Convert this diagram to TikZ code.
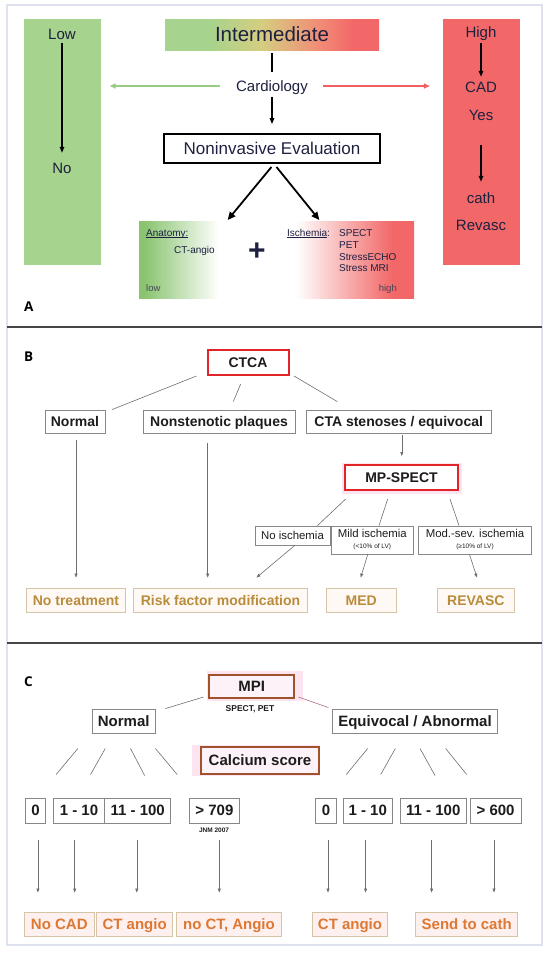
\documentclass[tikz,border=0pt]{standalone}
\usepackage{fontspec}
\setmainfont{Liberation Sans}
\newfontfamily\labfont{Open Sans}
\usetikzlibrary{arrows.meta}

\newcommand\myul[1]{\setbox0\hbox{#1}\rlap{\rule[-1.4pt]{\wd0}{0.6pt}}\box0}

\definecolor{lgreen}{RGB}{166,211,141}
\definecolor{egreen}{RGB}{138,196,112}
\definecolor{lred}{RGB}{242,104,104}
\definecolor{midtan}{RGB}{212,206,128}
\definecolor{salmonc}{RGB}{242,140,118}
\definecolor{navy}{RGB}{30,32,64}
\definecolor{lowgrey}{RGB}{70,70,90}
\definecolor{framec}{RGB}{222,226,238}
\definecolor{sepc}{RGB}{70,70,70}
\definecolor{boxgrey}{RGB}{135,135,135}
\definecolor{linegrey}{RGB}{110,110,110}
\definecolor{txtdark}{RGB}{28,28,28}
\definecolor{ctred}{RGB}{224,36,40}
\definecolor{brownb}{RGB}{160,82,45}
\definecolor{pinkbg}{RGB}{252,228,240}
\definecolor{pinkin}{RGB}{253,242,247}
\definecolor{gold}{RGB}{185,140,60}
\definecolor{orangeT}{RGB}{221,120,50}
\definecolor{tanb}{RGB}{214,196,166}
\definecolor{creambg}{RGB}{255,249,246}
\definecolor{pinkout}{RGB}{255,240,240}
\definecolor{arrowgreen}{RGB}{150,205,130}
\definecolor{arrowred}{RGB}{240,96,96}
\definecolor{redline}{RGB}{176,110,122}

\pgfdeclarehorizontalshading{intershade}{100bp}{color(0bp)=(lgreen); color(35bp)=(lgreen); color(47.5bp)=(midtan); color(61bp)=(salmonc); color(69bp)=(lred); color(100bp)=(lred)}
\pgfdeclarehorizontalshading{evalshade}{100bp}{color(0bp)=(egreen); color(26bp)=(egreen); color(39.5bp)=(white); color(53.5bp)=(white); color(71bp)=(lred); color(100bp)=(lred)}

\tikzset{
 atxt/.style={font=\fontsize{15}{18}\selectfont, text=navy, inner sep=0pt, text height=10.8pt, text depth=0pt},
 stxt/.style={font=\fontsize{10}{11.8}\selectfont, text=navy, inner sep=0pt, text height=7.2pt, text depth=0pt},
 plab/.style={font=\labfont\bfseries\fontsize{13.5}{16}\selectfont, text=black, inner sep=0pt, anchor=west, text height=9.7pt, text depth=0pt},
 bbox/.style={draw=boxgrey, line width=0.9pt, font=\bfseries\fontsize{14}{16}\selectfont, text=txtdark, inner sep=0pt, minimum height=23pt, text height=10.1pt, text depth=0pt},
 rbox/.style={bbox, draw=ctred, line width=2pt, minimum height=25pt},
 nbox/.style={draw=boxgrey, line width=0.9pt, font=\fontsize{11.4}{11}\selectfont, text=txtdark, inner sep=0pt},
 bout/.style={draw=tanb, fill=creambg, line width=0.9pt, font=\bfseries\fontsize{14}{16}\selectfont, text=gold, inner sep=0pt, minimum height=24pt, text height=10.1pt, text depth=0pt},
 cbox/.style={bbox, font=\bfseries\fontsize{15}{17}\selectfont, minimum height=25pt, text height=10.8pt},
 cred/.style={cbox, draw=brownb, fill=pinkin, line width=2pt},
 cout/.style={bout, fill=pinkout, text=orangeT, font=\bfseries\fontsize{15}{17}\selectfont, text height=10.8pt},
 gline/.style={draw=linegrey, line width=0.6pt},
 garr/.style={gline, -{Triangle[length=4pt,width=3pt]}},
 karr/.style={draw=black, line width=1.3pt, -{Triangle[length=6pt,width=4.5pt]}},
 karrb/.style={draw=black, line width=1.8pt, -{Triangle[length=8pt,width=7pt]}},
}

\begin{document}
\begin{tikzpicture}[x=1pt,y=-1pt]
\useasboundingbox (0,0) rectangle (550,956);
% frame and separators
\draw[framec, line width=1.5pt] (7,5) rectangle (542,945);
\draw[sepc, line width=1.2pt] (7,327) -- (542,327);
\draw[sepc, line width=1.2pt] (7,643) -- (542,643);

% ---------------- Panel A ----------------
\node[fill=lgreen, minimum width=77pt, minimum height=246pt, inner sep=0pt] (lowbox) at (62,142) {};
\node[fill=lred, minimum width=77pt, minimum height=246pt, inner sep=0pt] (highbox) at (481.5,142) {};
\node[shading=intershade, minimum width=214pt, minimum height=31pt, inner sep=0pt, font=\fontsize{20.5}{24}\selectfont, text=navy, text height=14.7pt, text depth=0pt] (inter) at (272,34.5) {Intermediate};
\node[atxt] (cardio) at (272,86) {Cardiology};
\node[draw=black, line width=1.8pt, minimum width=216pt, minimum height=29pt, inner sep=0pt, font=\fontsize{17}{20}\selectfont, text=navy, text height=12.2pt, text depth=0pt] (noninv) at (272,148.5) {Noninvasive Evaluation};
\node[shading=evalshade, minimum width=275pt, minimum height=77pt, inner sep=0pt] (eval) at (276.5,259.5) {};

\node[atxt] (low) at (62,34) {Low};
\node[atxt] (no) at (62,168) {No};
\node[atxt] (high) at (481,32) {High};
\node[atxt] (cad) at (481,87) {CAD};
\node[atxt] (yes) at (481,115) {Yes};
\node[atxt] (cath) at (481,198) {cath};
\node[atxt] (revasc) at (481,225) {Revasc};

\draw[karr, shorten <=3.6pt, shorten >=9.6pt] (low) -- (no);
\draw[karr, shorten <=5.7pt, shorten >=4.6pt] (high) -- (cad);
\draw[karr, shorten <=24.6pt, shorten >=10.6pt] (yes) -- (cath);
\draw[black, line width=1.3pt, shorten <=3pt, shorten >=8.5pt] (inter) -- (cardio);
\draw[karr, shorten <=5.5pt, shorten >=9pt] (cardio) -- (noninv);
\draw[arrowgreen, line width=1.6pt, -{Triangle[length=6pt,width=5pt]}, shorten <=16pt, shorten >=9pt] (cardio.west) -- (cardio.west -| lowbox.east);
\draw[arrowred, line width=1.6pt, -{Triangle[length=6pt,width=5pt]}, shorten <=14.7pt, shorten >=13pt] (cardio.east) -- (cardio.east -| highbox.west);
\draw[karrb, shorten <=4pt, shorten >=1pt] ([xshift=2pt]noninv.south) -- ([xshift=-49.5pt]eval.north);
\draw[karrb, shorten <=4pt, shorten >=1pt] ([xshift=2pt]noninv.south) -- ([xshift=43.5pt]eval.north);

\node[stxt, anchor=west] (anat) at (146,233) {\myul{Anatomy:}};
\node[stxt, anchor=west] (ctang) at (174,250) {CT-angio};
\node[font=\bfseries\fontsize{30}{30}\selectfont, text=navy, inner sep=0pt] (plus) at (257,252) {+};
\node[stxt, anchor=west] (isch) at (287,233) {\myul{Ischemia}:};
\node[stxt, anchor=west] (spect) at (339,233) {SPECT};
\node[stxt, anchor=west] (pet) at (339,244.7) {PET};
\node[stxt, anchor=west] (secho) at (339,256.4) {StressECHO};
\node[stxt, anchor=west] (smri) at (339,268) {Stress MRI};
\node[stxt, font=\fontsize{9.5}{11}\selectfont, text=lowgrey, anchor=west] (lowl) at (146,288) {low};
\node[stxt, font=\fontsize{9.5}{11}\selectfont, text=lowgrey, anchor=east] (highl) at (397,288) {high};

\node[plab] (labA) at (24,307) {A};

% ---------------- Panel B ----------------
\node[plab] (labB) at (24,357) {B};
\node[rbox, minimum width=81pt] (ctca) at (248,362.5) {CTCA};
\node[bbox, minimum width=60pt] (normal) at (75,421.5) {Normal};
\node[bbox, minimum width=152pt] (nonst) at (219,421.5) {Nonstenotic plaques};
\node[bbox, minimum width=185pt] (cta) at (398.7,421.5) {CTA stenoses / equivocal};
\fill[pinkbg] (342,463) rectangle (462,494);
\node[rbox, fill=white, minimum width=113pt] (mps) at (401.5,477.5) {MP-SPECT};
\node[nbox, minimum width=75pt, minimum height=19pt, text height=8.2pt, text depth=0pt] (noisch) at (292.5,535.5) {No ischemia};
\node[nbox, minimum width=81.4pt, minimum height=28pt, align=center] (mild) at (372.3,540) {Mild ischemia\\{\fontsize{6.5}{7}\selectfont(<10\% of LV)}};
\node[nbox, minimum width=113pt, minimum height=28pt, align=center] (mod) at (475,540) {Mod.-sev. ischemia\\{\fontsize{6.5}{7}\selectfont(≥10\% of LV)}};

\node[bout, minimum width=99.6pt] (notreat) at (76,600) {No treatment};
\node[bout, minimum width=174.4pt] (risk) at (220.5,600) {Risk factor modification};
\node[bout, minimum width=70pt] (med) at (361.3,600) {MED};
\node[bout, minimum width=76.5pt] (revb) at (475.8,600) {REVASC};

\draw[gline] ([xshift=-10pt]ctca.south west) -- ([xshift=6.6pt]normal.north east);
\draw[gline] ([shift={(-7.3,8)}]ctca.south) -- ([shift={(14.3,-8)}]nonst.north);
\draw[gline] ([xshift=4.5pt]ctca.south east) -- ([shift={(31.5,-8)}]cta.north west);
\draw[garr, shorten <=7pt, shorten >=10pt] ([xshift=1pt]normal.south) -- ([xshift=1pt]normal.south |- notreat.north);
\draw[garr, shorten <=10pt, shorten >=10pt] ([xshift=-11.3pt]nonst.south) -- ([xshift=-11.3pt]nonst.south |- risk.north);
\draw[garr, shorten <=2pt, shorten >=8pt] ([xshift=3.1pt]cta.south) -- ([xshift=3.1pt]cta.south |- mps.north);
\draw[gline] ([shift={(1.7,8)}]mps.south west) -- ([xshift=25pt]noisch.north);
\draw[gline] ([shift={(-13.8,8)}]mps.south) -- ([xshift=6.7pt]mild.north);
\draw[gline] ([shift={(-9,8)}]mps.south east) -- ([xshift=-16pt]mod.north);
\draw[garr] ([xshift=2.2pt]noisch.south) -- ([shift={(-51.7,-10)}]risk.north east);
\draw[garr] ([xshift=-4.6pt]mild.south) -- ([shift={(-0.6,-10)}]med.north);
\draw[garr] ([xshift=-5.5pt]mod.south) -- ([shift={(1.2,-10)}]revb.north);

% ---------------- Panel C ----------------
\node[plab] (labC) at (24,682) {C};
\fill[pinkbg] (207,671) rectangle (303,701);
\node[cred, minimum width=84.5pt, minimum height=23pt] (mpi) at (251.7,686.5) {MPI};
\node[font=\bfseries\fontsize{8.5}{9}\selectfont, text=txtdark, inner sep=0pt, text height=6.1pt, text depth=0pt] (spet) at (250,708) {SPECT, PET};
\node[cbox, minimum width=63.5pt, minimum height=24pt] (normC) at (123.7,721) {Normal};
\node[cbox, minimum width=165pt, minimum height=24pt] (equiv) at (415,721) {Equivocal / Abnormal};
\fill[pinkbg] (192,745) rectangle (320,776);
\node[cred, minimum width=117.6pt, minimum height=27pt] (calc) at (260,760.5) {Calcium score};

\draw[gline] ([shift={(-4.9,-2)}]mpi.south west) -- ([xshift=9.6pt]normC.north east);
\draw[redline, line width=0.6pt] ([shift={(3.5,-2)}]mpi.south east) -- ([shift={(-3.6,-1)}]equiv.north west);

\node[cbox, minimum width=20pt] (zL) at (35.6,810.5) {0};
\node[cbox, minimum width=51.3pt] (oneL) at (79,810.5) {1 - 10};
\node[cbox, minimum width=66.3pt] (elevL) at (137.7,810.5) {11 - 100};
\node[cbox, minimum width=49.8pt] (bigL) at (214.4,810.5) {> 709};
\node[font=\bfseries\fontsize{6.5}{7}\selectfont, text=txtdark, inner sep=0pt, text height=4.7pt, text depth=0pt] (jnm) at (214,830) {JNM 2007};
\node[cbox, minimum width=20.3pt] (zR) at (326,810.5) {0};
\node[cbox, minimum width=49.1pt] (oneR) at (367.7,810.5) {1 - 10};
\node[cbox, minimum width=66.7pt] (elevR) at (433.3,810.5) {11 - 100};
\node[cbox, minimum width=50.8pt] (bigR) at (495.6,810.5) {> 600};

\draw[gline] ([shift={(-45.8,15)}]normC.south) -- ([shift={(20.5,-23)}]zL.north);
\draw[gline] ([shift={(-18.4,15)}]normC.south) -- ([shift={(11.5,-23)}]oneL.north);
\draw[gline] ([shift={(6.8,15)}]normC.south) -- ([shift={(6.9,-22)}]elevL.north);
\draw[gline] ([shift={(31.7,15)}]normC.south) -- ([shift={(-37.2,-23)}]bigL.north);
\draw[gline] ([shift={(-47.3,15)}]equiv.south) -- ([shift={(20.3,-23)}]zR.north);
\draw[gline] ([shift={(-19.6,15)}]equiv.south) -- ([shift={(13,-23)}]oneR.north);
\draw[gline] ([shift={(5,15)}]equiv.south) -- ([shift={(1.7,-22)}]elevR.north);
\draw[gline] ([shift={(30.6,15)}]equiv.south) -- ([shift={(-28.9,-23)}]bigR.north);

\node[cout, minimum width=69.5pt] (nocad) at (59.3,924) {No CAD};
\node[cout, minimum width=76pt] (ctaL) at (134.6,924) {CT angio};
\node[cout, minimum width=105.6pt] (noct) at (229,924) {no CT, Angio};
\node[cout, minimum width=75.4pt] (ctaR) at (350,924) {CT angio};
\node[cout, minimum width=101.7pt] (send) at (466.7,924) {Send to cath};

\draw[garr, shorten <=17pt, shorten >=19pt] ([xshift=2.3pt]zL.south) -- ([xshift=2.3pt]zL.south |- nocad.north);
\draw[garr, shorten <=17pt, shorten >=19pt] ([xshift=-4.3pt]oneL.south) -- ([xshift=-4.3pt]oneL.south |- nocad.north);
\draw[garr, shorten <=17pt, shorten >=19pt] ([xshift=-0.9pt]elevL.south) -- ([xshift=-0.9pt]elevL.south |- ctaL.north);
\draw[garr, shorten <=17pt, shorten >=19pt] ([xshift=4.9pt]bigL.south) -- ([xshift=4.9pt]bigL.south |- noct.north);
\draw[garr, shorten <=17pt, shorten >=19pt] ([xshift=2pt]zR.south) -- ([xshift=2pt]zR.south |- ctaR.north);
\draw[garr, shorten <=17pt, shorten >=19pt] ([xshift=-2.1pt]oneR.south) -- ([xshift=-2.1pt]oneR.south |- ctaR.north);
\draw[garr, shorten <=17pt, shorten >=19pt] ([xshift=-1.7pt]elevR.south) -- ([xshift=-1.7pt]elevR.south |- send.north);
\draw[garr, shorten <=17pt, shorten >=19pt] ([xshift=-1.6pt]bigR.south) -- ([xshift=-1.6pt]bigR.south |- send.north);
\end{tikzpicture}
\end{document}
